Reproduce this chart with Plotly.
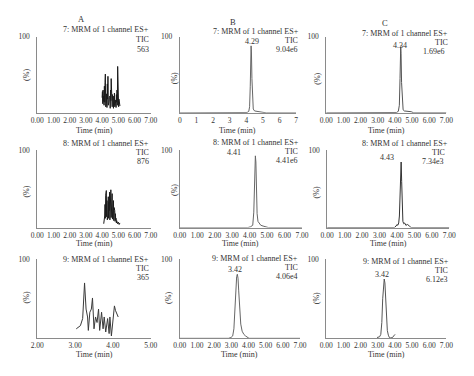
import plotly.graph_objects as go

# Page body has an 8px default margin, so the figure is drawn 8px in from the window edges.
OFF = 8
W, H = 474 - 2 * OFF, 376 - 2 * OFF

# ---------------- data ----------------
# Row 1 (channel 7)
a1_t = [4.00, 4.02, 4.04, 4.06, 4.08, 4.10, 4.12, 4.14, 4.16, 4.18, 4.20, 4.22, 4.24, 4.26, 4.28,
        4.30, 4.32, 4.34, 4.36, 4.38, 4.40, 4.42, 4.44, 4.46, 4.48, 4.50, 4.52, 4.54, 4.56, 4.58,
        4.60, 4.62, 4.64, 4.66, 4.68, 4.70, 4.72, 4.74, 4.76, 4.78, 4.80, 4.82, 4.84, 4.86, 4.88,
        4.90, 4.92, 4.94, 4.96, 4.98, 5.00, 5.02, 5.04, 5.06, 5.08, 5.10]
a1_y = [20, 28, 12, 30, 15, 22, 10, 35, 14, 40, 51, 8, 30, 12, 25,
        7, 38, 18, 48, 10, 26, 14, 20, 9, 22, 6, 30, 16, 45, 12,
        28, 8, 24, 11, 18, 6, 22, 10, 26, 8, 20, 12, 17, 7, 24,
        14, 30, 10, 61, 12, 20, 8, 18, 10, 14, 9]
b1_t = [0.0, 3.90, 4.05, 4.15, 4.20, 4.24, 4.27, 4.29, 4.31, 4.34, 4.38, 4.42, 4.50, 4.70, 4.90, 5.05, 5.20, 7.0]
b1_y = [0, 0, 0.5, 2, 8, 35, 75, 88, 80, 45, 15, 5, 2.5, 2, 1.5, 0.5, 0, 0]
c1_t = [0.0, 3.90, 4.10, 4.20, 4.26, 4.30, 4.32, 4.34, 4.36, 4.39, 4.43, 4.48, 4.55, 4.75, 4.95, 5.10, 7.0]
c1_y = [0, 0, 0.5, 2, 10, 45, 75, 87, 78, 40, 12, 4, 2.5, 2, 1.5, 0, 0]

# Row 2 (channel 8)
a2_t = [4.10, 4.13, 4.16, 4.18, 4.20, 4.22, 4.24, 4.26, 4.28, 4.30, 4.32, 4.34, 4.36, 4.38, 4.40,
        4.42, 4.44, 4.46, 4.48, 4.50, 4.52, 4.54, 4.56, 4.58, 4.60, 4.62, 4.64, 4.66, 4.68, 4.70,
        4.72, 4.74, 4.76, 4.78, 4.80, 4.82, 4.84, 4.86, 4.88, 4.90, 4.95, 5.00, 5.05, 5.10]
a2_y = [5, 8, 15, 30, 12, 42, 20, 48, 14, 35, 10, 28, 16, 40, 12,
        33, 22, 46, 10, 38, 18, 49, 13, 36, 20, 44, 11, 30, 17, 35,
        9, 26, 14, 22, 8, 18, 10, 12, 6, 9, 5, 7, 4, 6]
b2_t = [0.0, 3.90, 4.05, 4.18, 4.24, 4.28, 4.31, 4.33, 4.36, 4.39, 4.43, 4.48, 4.55, 4.64, 4.77, 4.92, 5.08, 7.0]
b2_y = [0, 0, 1, 3, 20, 70, 88, 93, 85, 50, 18, 8, 5, 3, 2, 1, 0, 0]
c2_t = [0.0, 3.85, 3.95, 4.00, 4.05, 4.10, 4.14, 4.18, 4.21, 4.24, 4.27, 4.30, 4.34, 4.39,
        4.44, 4.51, 4.61, 4.71, 4.81, 7.0]
c2_y = [0, 0, 2, 4, 3, 6, 15, 45, 75, 85, 60, 20, 8, 5, 6, 3, 4, 2, 0, 0]

# Row 3 (channel 9)
a3_t = [3.03, 3.14, 3.20, 3.25, 3.29, 3.33, 3.35, 3.39, 3.43, 3.46, 3.50, 3.54, 3.58, 3.62,
        3.65, 3.70, 3.74, 3.77, 3.81, 3.86, 3.90, 3.92, 3.96, 4.00, 4.04, 4.07, 4.10, 4.14]
a3_y = [12, 16, 25, 70, 37, 27, 10, 33, 37, 51, 12, 27, 20, 37,
        10, 33, 12, 27, 8, 25, 6, 27, 3, 23, 41, 35, 31, 27]
b3_t = [0.0, 2.83, 2.98, 3.08, 3.15, 3.21, 3.27, 3.31, 3.35, 3.39, 3.43, 3.49, 3.55, 3.63,
        3.73, 3.83, 3.93, 4.03, 7.0]
b3_y = [0, 0, 1, 3, 12, 40, 68, 78, 81, 76, 60, 35, 18, 9, 5, 3, 1.5, 0, 0]
c3_t = [2.96, 3.04, 3.11, 3.18, 3.24, 3.29, 3.34, 3.38, 3.42, 3.46, 3.51, 3.56, 3.62, 3.68,
        3.76, 3.86, 3.93, 4.01]
c3_y = [1, 2, 2, 5, 20, 50, 70, 75, 70, 50, 25, 10, 4, 1, 0.5, 1, 3, 5]

ticks_0_7 = [0, 1, 2, 3, 4, 5, 6, 7]
ticklabels_dec = ["0.00", "1.00", "2.00", "3.00", "4.00", "5.00", "6.00", "7.00"]
ticklabels_int = ["0", "1", "2", "3", "4", "5", "6", "7"]
ticks_2_5 = [2, 3, 4, 5]
ticklabels_2_5 = ["2.00", "3.00", "4.00", "5.00"]

channels = ["7: MRM of 1 channel ES+", "8: MRM of 1 channel ES+", "9: MRM of 1 channel ES+"]
intensities = [["563", "9.04e6", "1.69e6"],
               ["876", "4.41e6", "7.34e3"],
               ["365", "4.06e4", "6.12e3"]]
peak_labels = [[None, "4.29", "4.34"],
               [None, "4.41", "4.43"],
               [None, "3.42", "3.42"]]
col_titles = ["A", "B", "C"]

# ---------------- layout geometry (reference pixels) ----------------
xdom = [[(31, 148), (178, 298), (329, 453)],
        [(31, 148), (178, 304), (330, 456)],
        [(31, 148), (178, 302), (329, 453)]]
ydom = [(33, 110), (148, 226), (258, 338)]

series = [[(a1_t, a1_y, "#1a1a1a"), (b1_t, b1_y, "#666666"), (c1_t, c1_y, "#555555")],
          [(a2_t, a2_y, "#1a1a1a"), (b2_t, b2_y, "#666666"), (c2_t, c2_y, "#333333")],
          [(a3_t, a3_y, "#3a3a3a"), (b3_t, b3_y, "#666666"), (c3_t, c3_y, "#555555")]]

FONT = "Liberation Serif"
TXT = "#333333"
AX = "#8a8a8a"


def px(x):
    return (x - OFF) / W


def py(y):
    return 1 - (y - OFF) / H


mrm_pos = [[(148, 26), (303, 28), (457, 30)],
           [(148, 141), (303, 140), (457, 141)],
           [(148, 258), (302, 257), (458, 260)]]
tic_pos = [[(148, 36), (302, 37), (457, 39)],
           [(148, 150), (302, 149), (454, 150)],
           [(148, 267), (302, 266), (457, 269)]]
int_pos = [[(148, 46), (302, 46), (454, 48)],
           [(148, 159), (302, 158), (453, 159)],
           [(148, 276), (302, 275), (457, 278)]]
peak_pos = [[None, (252, 38), (405, 42)],
            [None, (234, 150), (392, 155)],
            [None, (235, 268), (387, 273)]]
pct_pos = [[(20, 72), (172, 75), (320, 75)],
           [(20, 190), (172, 188), (320, 190)],
           [(20, 297), (167, 297), (319, 297)]]
time_y = [128, 242, 354]
title_pos = [(77, 15), (233, 18), (390, 19)]

fig = go.Figure()
annotations = []
f8 = dict(family=FONT, size=8, color=TXT)


def note(text, x, y, xanchor="right", **kw):
    annotations.append(dict(text=text, x=px(x), y=py(y), xref="paper", yref="paper",
                            xanchor=xanchor, yanchor="middle", showarrow=False,
                            font=kw.pop("font", f8), **kw))


k = 0
for r in range(3):
    for c in range(3):
        k += 1
        xa = "xaxis" if k == 1 else f"xaxis{k}"
        ya = "yaxis" if k == 1 else f"yaxis{k}"
        xr = "x" if k == 1 else f"x{k}"
        yr = "y" if k == 1 else f"y{k}"
        t, v, col = series[r][c]
        fig.add_trace(go.Scatter(x=t, y=v, mode="lines", line=dict(color=col, width=1),
                                 xaxis=xr, yaxis=yr, showlegend=False, hoverinfo="skip"))
        x0, x1 = xdom[r][c]
        yt, yb = ydom[r]
        if r == 2 and c == 0:
            tv, tt, rng = ticks_2_5, ticklabels_2_5, [2, 5]
        elif r == 0 and c == 1:
            tv, tt, rng = ticks_0_7, ticklabels_int, [0, 7]
        else:
            tv, tt, rng = ticks_0_7, ticklabels_dec, [0, 7]
        fig.update_layout(**{
            xa: dict(domain=[px(x0), px(x1)], range=rng, tickvals=tv, ticktext=tt,
                     showline=True, linecolor=AX, linewidth=1, showgrid=False, zeroline=False,
                     ticks="", tickfont=dict(family=FONT, size=7.5, color=TXT), anchor=yr,
                     fixedrange=True),
            ya: dict(domain=[py(yb), py(yt)], range=[0, 100], tickvals=[100], ticktext=["100"],
                     showline=True, linecolor=AX, linewidth=1, showgrid=False, zeroline=False,
                     ticks="", ticklabelstandoff=5,
                     tickfont=dict(family=FONT, size=7.5, color=TXT), anchor=xr,
                     fixedrange=True),
        })
        note(channels[r], *mrm_pos[r][c])
        note("TIC", *tic_pos[r][c])
        note(intensities[r][c], *int_pos[r][c])
        if peak_labels[r][c]:
            note(peak_labels[r][c], *peak_pos[r][c], xanchor="center")
        note("(%)", *pct_pos[r][c], xanchor="center", textangle=-90)
        note("Time (min)", (x0 + x1) / 2, time_y[r], xanchor="center")
        if r == 0:
            note(col_titles[c], *title_pos[c], xanchor="center",
                 font=dict(family=FONT, size=8.5, color=TXT))

fig.update_layout(width=W, height=H, margin=dict(l=0, r=0, t=0, b=0),
                  paper_bgcolor="white", plot_bgcolor="white", annotations=annotations)

fig.write_html("out.html", config=dict(displayModeBar=False))
